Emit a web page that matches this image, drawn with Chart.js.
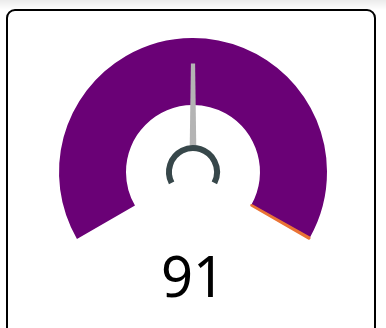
<!DOCTYPE html>
<html>
<head>
<meta charset="utf-8">
<script src="https://cdn.jsdelivr.net/npm/chart.js@4.4.0/dist/chart.umd.min.js"></script>
<style>
  html, body { margin: 0; padding: 0; }
  body {
    width: 386px; height: 328px; overflow: hidden; position: relative;
    background: linear-gradient(#ebebeb 0px, #ffffff 10px);
  }
  .card {
    position: absolute; left: 6px; top: 9px; width: 366px; height: 340px;
    border: 2px solid #000; border-radius: 9px; background: #fff;
  }
  #gauge { position: absolute; left: 0; top: 0; }
</style>
</head>
<body>
<div class="card"></div>
<canvas id="gauge" width="386" height="328"></canvas>
<script>
// gauge range split into bands, and the current reading
const bandLimits = [181.5, 182];
const bandColors = ['#6a0176', '#ea7335'];
const gaugeMin = 0;
const gaugeValue = 91;

const bandSizes = bandLimits.map((v, i) => v - (i === 0 ? gaugeMin : bandLimits[i - 1]));

const needlePlugin = {
    id: 'needle',
    afterDatasetsDraw(chart) {
        const arc = chart.getDatasetMeta(0).data[0];
        const ctx = chart.ctx;
        const cx = arc.x, cy = arc.y;
        const max = bandLimits[bandLimits.length - 1];
        const start = -120, sweep = 240;
        const deg = start + sweep * (gaugeValue - gaugeMin) / (max - gaugeMin);
        const a = (deg - 90) * Math.PI / 180;

        // needle
        const r0 = 24, r1 = arc.outerRadius * 0.81;
        const w0 = 3.3, w1 = 2.1;
        const px = -Math.sin(a), py = Math.cos(a);
        ctx.save();
        ctx.fillStyle = '#b4b4b4';
        ctx.beginPath();
        ctx.moveTo(cx + Math.cos(a) * r0 + px * w0, cy + Math.sin(a) * r0 + py * w0);
        ctx.lineTo(cx + Math.cos(a) * r1 + px * w1, cy + Math.sin(a) * r1 + py * w1);
        ctx.lineTo(cx + Math.cos(a) * r1 - px * w1, cy + Math.sin(a) * r1 - py * w1);
        ctx.lineTo(cx + Math.cos(a) * r0 - px * w0, cy + Math.sin(a) * r0 - py * w0);
        ctx.closePath();
        ctx.fill();

        // hub
        ctx.strokeStyle = '#37474a';
        ctx.lineWidth = 6;
        ctx.lineCap = 'butt';
        ctx.beginPath();
        ctx.arc(cx, cy, 24, 153 * Math.PI / 180, 27 * Math.PI / 180);
        ctx.stroke();

        // reading
        ctx.fillStyle = '#000';
        ctx.font = '56px "Noto Sans", "Open Sans", sans-serif';
        ctx.textAlign = 'center';
        ctx.textBaseline = 'alphabetic';
        ctx.fillText(String(gaugeValue), cx, 297);
        ctx.restore();
    }
};

const gaugeChart = new Chart(document.getElementById('gauge').getContext('2d'), {
    type: 'doughnut',
    data: {
        datasets: [{
            data: bandSizes,
            backgroundColor: bandColors,
            borderColor: bandColors,
            borderWidth: [0, 2]
        }]
    },
    options: {
        responsive: false,
        animation: false,
        rotation: -120,
        circumference: 240,
        cutout: '50%',
        layout: { padding: { left: 58, right: 58, top: 37, bottom: 88 } },
        plugins: {
            legend: { display: false },
            tooltip: { enabled: false }
        }
    },
    plugins: [needlePlugin]
});
</script>
</body>
</html>
